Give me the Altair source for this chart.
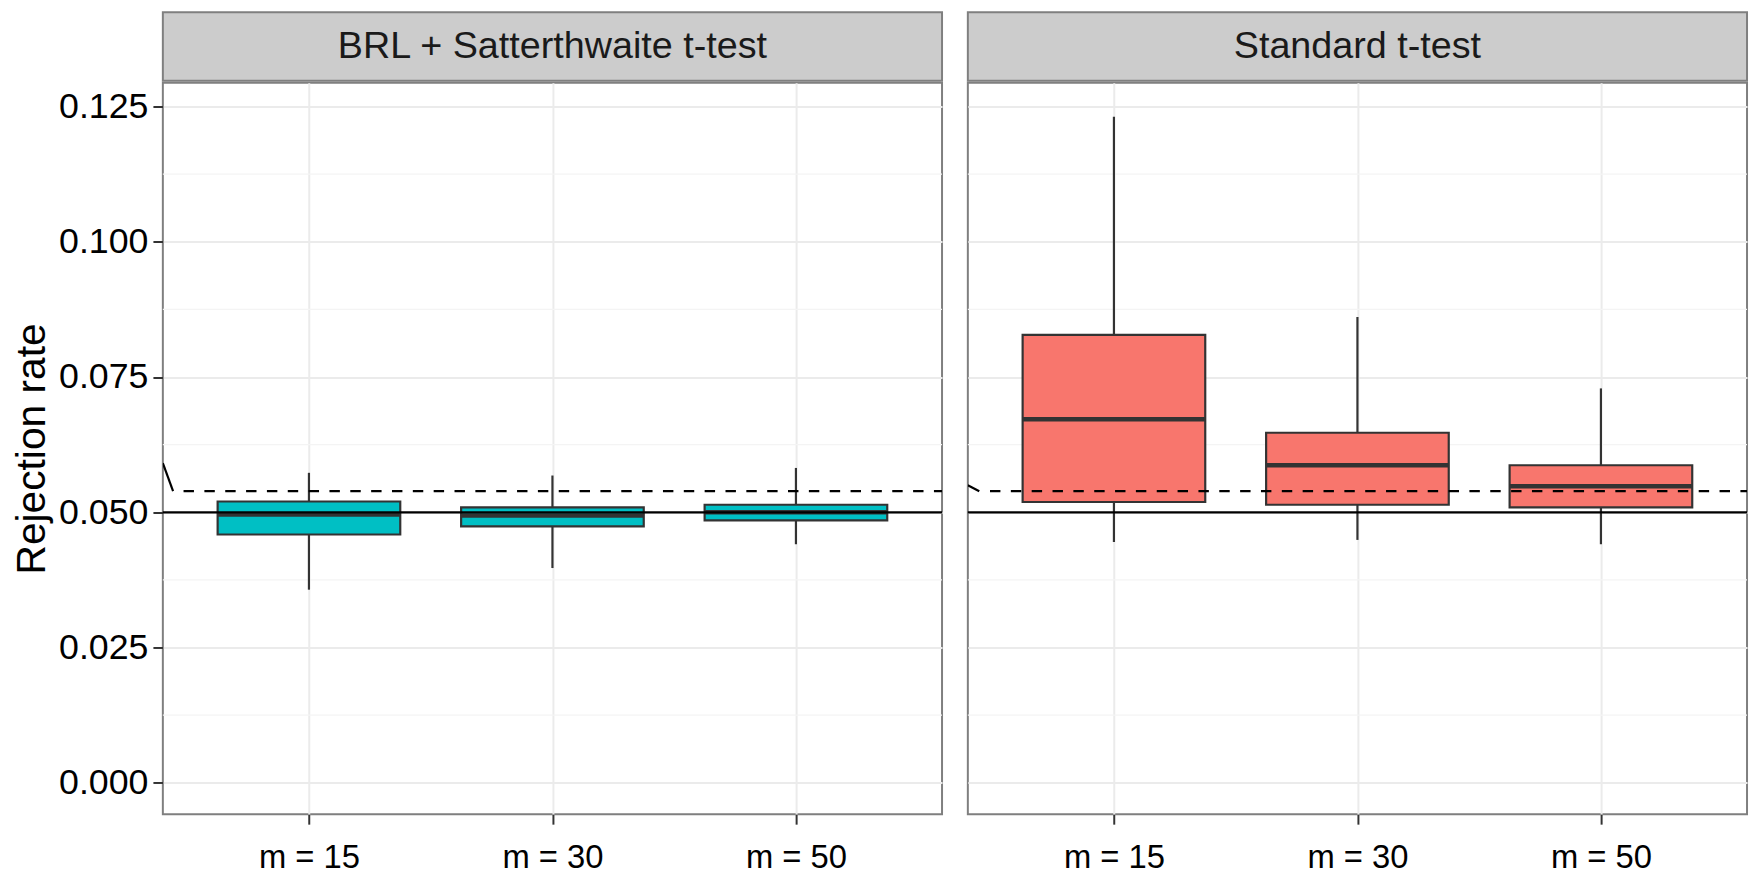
import altair as alt
import pandas as pd

# ---- data ----
panels = ["BRL + Satterthwaite t-test", "Standard t-test"]
panel_colors = ["#00BFC4", "#F8766D"]
m_labels = ["m = 15", "m = 30", "m = 50"]
positions = [1, 2, 3]

box_test = [panels[0]] * 3 + [panels[1]] * 3
box_pos = positions * 2
box_lower = [0.0357, 0.0397, 0.0441, 0.0445, 0.0449, 0.0441]
box_q1 = [0.0459, 0.0474, 0.0485, 0.0519, 0.0514, 0.0509]
box_median = [0.0496, 0.0494, 0.0500, 0.0672, 0.0587, 0.0548]
box_q3 = [0.0520, 0.0509, 0.0514, 0.0828, 0.0647, 0.0587]
box_upper = [0.0573, 0.0568, 0.0582, 0.1231, 0.0861, 0.0729]

nominal_level = 0.05
dashed_level = 0.0539
kink_start_y = [0.0591, 0.0550]
kink_end_x = [0.442, 0.447]
dash_start_x = [0.485, 0.491]

y_ticks = [0.0, 0.025, 0.05, 0.075, 0.1, 0.125]
y_minor = [0.0125, 0.0375, 0.0625, 0.0875, 0.1125]

boxes = pd.DataFrame({
    "test": box_test, "pos": box_pos, "lower": box_lower, "q1": box_q1,
    "median": box_median, "q3": box_q3, "upper": box_upper,
})

FONT = "Liberation Sans"
W, H, STRIP_H = 785, 737, 69
BOX_HALF = 0.375
LW = 2.2

label_expr = " : ".join(
    f"datum.value == {p} ? '{lab}'" for p, lab in zip(positions, m_labels)
) + " : ''"

xs = alt.Scale(domain=[0.4, 3.6], nice=False, zero=False)
ys = alt.Scale(domain=[-0.0058, 0.1294], nice=False, zero=False)


def make_panel(i):
    name = panels[i]
    d = boxes[boxes.test == name]

    xaxis = alt.Axis(values=positions, labelExpr=label_expr, title=None,
                     grid=True, gridColor="#EBEBEB", gridWidth=2,
                     tickColor="#333333", tickWidth=2, tickSize=10,
                     labelFontSize=33, labelColor="black", labelPadding=18,
                     labelFont=FONT, domain=False)
    if i == 0:
        yaxis = alt.Axis(values=y_ticks, format=".3f", title="Rejection rate",
                         titleFontSize=41, titleFontWeight="normal",
                         titleFont=FONT, titleColor="black", titlePadding=5,
                         grid=True, gridColor="#EBEBEB", gridWidth=2,
                         tickColor="#333333", tickWidth=2, tickSize=10,
                         labelFontSize=36, labelColor="black", labelPadding=5,
                         labelFont=FONT, domain=False)
    else:
        yaxis = alt.Axis(values=y_ticks, title=None, labels=False, ticks=False,
                         grid=True, gridColor="#EBEBEB", gridWidth=2,
                         domain=False)

    minor = alt.Chart(pd.DataFrame({"y": y_minor})).mark_rule(
        color="#F4F4F4", strokeWidth=1.2
    ).encode(y=alt.Y("y:Q", scale=ys, axis=yaxis))

    base = alt.Chart(d).transform_calculate(
        x_lo=f"datum.pos - {BOX_HALF}", x_hi=f"datum.pos + {BOX_HALF}"
    )
    whisk = base.mark_rule(color="#333333", strokeWidth=LW).encode(
        x=alt.X("pos:Q", scale=xs, axis=xaxis),
        y=alt.Y("lower:Q", scale=ys), y2="upper:Q")
    box = base.mark_rect(color=panel_colors[i], stroke="#333333",
                         strokeWidth=LW).encode(
        x=alt.X("x_lo:Q", scale=xs), x2="x_hi:Q",
        y=alt.Y("q1:Q", scale=ys), y2="q3:Q")
    med = base.mark_rule(color="#333333", strokeWidth=4.5).encode(
        x=alt.X("x_lo:Q", scale=xs), x2="x_hi:Q",
        y=alt.Y("median:Q", scale=ys))

    nominal = alt.Chart(pd.DataFrame({"y": [nominal_level]})).mark_rule(
        color="black", strokeWidth=LW
    ).encode(y=alt.Y("y:Q", scale=ys))

    ref = pd.DataFrame({
        "x0": [0.4], "x1": [kink_end_x[i]], "x2": [dash_start_x[i]],
        "xend": [3.6], "y0": [kink_start_y[i]], "y1": [dashed_level],
    })
    kink = alt.Chart(ref).mark_rule(color="black", strokeWidth=LW, clip=True).encode(
        x=alt.X("x0:Q", scale=xs), x2="x1:Q",
        y=alt.Y("y0:Q", scale=ys), y2="y1:Q")
    dashed = alt.Chart(ref).mark_rule(color="black", strokeWidth=LW,
                                      strokeDash=[10.5, 10.5], clip=True).encode(
        x=alt.X("x2:Q", scale=xs), x2="xend:Q",
        y=alt.Y("y1:Q", scale=ys))

    plot = alt.layer(minor, whisk, box, med, nominal, kink, dashed).properties(
        width=W, height=H,
        view=alt.ViewBackground(fill="white", stroke="#7F7F7F", strokeWidth=2),
    )

    strip = alt.Chart(pd.DataFrame({"panel": [name]})).mark_text(
        font=FONT, fontSize=38, color="#1A1A1A", align="center", baseline="middle"
    ).encode(
        text="panel:N", x=alt.value(W / 2), y=alt.value(STRIP_H / 2 + 1)
    ).properties(
        width=W, height=STRIP_H,
        view=alt.ViewBackground(fill="#CCCCCC", stroke="#7F7F7F", strokeWidth=2),
    )
    return alt.vconcat(strip, plot, spacing=0)


chart = alt.hconcat(make_panel(0), make_panel(1), spacing=20).properties(
    padding={"left": 2, "top": 0, "right": 0, "bottom": 0}
).configure(font=FONT)

chart.save("out.html", embed_options={"renderer": "svg", "actions": False})
